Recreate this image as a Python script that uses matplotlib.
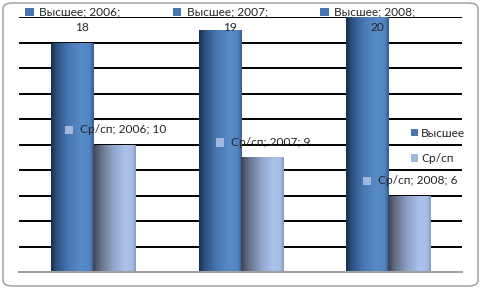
import numpy as np
import matplotlib
matplotlib.use("Agg")
import matplotlib.pyplot as plt
from matplotlib.colors import LinearSegmentedColormap
from matplotlib.patches import FancyBboxPatch, Rectangle, Patch
from matplotlib.offsetbox import AnnotationBbox, HPacker, VPacker, TextArea, DrawingArea
import matplotlib.transforms as mtransforms

years = ["2006", "2007", "2008"]
vysshee = [18, 19, 20]
srsp = [10, 9, 6]
series_names = ["Высшее", "Ср/сп"]

plt.rcParams['font.family'] = ['Lato', 'DejaVu Sans']
FS = 8.6
TXT = '#262626'
DARK_KEY = '#4a76b0'
LIGHT_KEY = '#a3b6dc'

fig = plt.figure(figsize=(4.81, 2.89), dpi=100)
fig.patch.set_facecolor('white')
frame = FancyBboxPatch((3/481, 3/289), 475/481, 283/289,
                       boxstyle="round,pad=0,rounding_size=0.02",
                       transform=fig.transFigure, facecolor='none',
                       edgecolor='#9a9a9a', linewidth=1.0, zorder=0)
fig.patches.append(frame)

ax = fig.add_axes([19/481, 1-272/289, 443/481, 255/289])
ax.set_facecolor('none')
x = np.arange(len(years))
w = 0.285
ax.set_xlim(-0.502, 2.501)
ax.set_ylim(0, 20)
ax.set_yticks(np.arange(0, 21, 2))
ax.yaxis.grid(True, color='black', linewidth=1.4, zorder=0)
ax.set_axisbelow(True)
ax.tick_params(left=False, bottom=False, labelleft=False, labelbottom=False)
for s in ['left', 'right', 'top']:
    ax.spines[s].set_visible(False)
ax.spines['bottom'].set_color('#a0a0a0')
ax.spines['bottom'].set_linewidth(1.5)

cm_dark = LinearSegmentedColormap.from_list('d', [
    (0.0, '#172c4a'), (0.12, '#2c4e7c'), (0.4, '#4677b2'),
    (0.72, '#588cc9'), (0.9, '#5286c2'), (1.0, '#375c90')])
cm_light = LinearSegmentedColormap.from_list('l', [
    (0.0, '#3b4353'), (0.18, '#666f89'), (0.48, '#92a5cb'),
    (0.75, '#abc3ec'), (0.92, '#a5bbe3'), (1.0, '#8598bc')])

grad = np.linspace(0, 1, 256).reshape(1, -1)

def shade(bars, cmap):
    for b in bars:
        x0, y0 = b.get_x(), b.get_y()
        bw, bh = b.get_width(), b.get_height()
        b.set_facecolor('none')
        b.set_edgecolor('none')
        im = ax.imshow(grad, cmap=cmap, aspect='auto',
                       extent=(x0, x0 + bw, y0, y0 + bh), zorder=2,
                       interpolation='bilinear')
        im.set_clip_path(b)

b1 = ax.bar(x - w/2, vysshee, w, zorder=2)
b2 = ax.bar(x + w/2, srsp, w, zorder=2)
shade(b1, cm_dark)
shade(b2, cm_light)
ax.set_xlim(-0.502, 2.501)
ax.set_ylim(0, 20)

def keybox(color):
    da = DrawingArea(6, 6, 0, 0)
    da.add_artist(Rectangle((0, 0), 6, 6, facecolor=color, edgecolor='none'))
    return da

def spacer():
    return DrawingArea(10, 6, 0, 0)

tprops = dict(fontsize=FS, color=TXT)

# Высшее labels (kept inside plot area at top)
blend = mtransforms.blended_transform_factory(ax.transData, ax.transAxes)
for xi, yr, v in zip(x, years, vysshee):
    row = HPacker(children=[keybox(DARK_KEY),
                            TextArea(f"{series_names[0]}; {yr};", textprops=tprops),
                            spacer()], align='center', pad=0, sep=4)
    box = VPacker(children=[row, TextArea(str(v), textprops=tprops)],
                  align='center', pad=0, sep=3)
    ab = AnnotationBbox(box, (xi - w/2, 1.0), xycoords=blend,
                        xybox=(7.5, -2.0), boxcoords='offset points',
                        frameon=False, box_alignment=(0.5, 0.5), zorder=5,
                        annotation_clip=False)
    ax.add_artist(ab)

for xi, yr, v in zip(x, years, srsp):
    row = HPacker(children=[keybox(LIGHT_KEY),
                            TextArea(f"{series_names[1]}; {yr}; {v}", textprops=tprops),
                            spacer()], align='center', pad=0, sep=5)
    ab = AnnotationBbox(row, (xi + w/2, v), xycoords='data',
                        xybox=(8.5, 10.5), boxcoords='offset points',
                        frameon=False, box_alignment=(0.5, 0.5), zorder=5)
    ax.add_artist(ab)

handles = [Patch(facecolor=DARK_KEY, edgecolor='none'),
           Patch(facecolor=LIGHT_KEY, edgecolor='none')]
leg = ax.legend(handles, series_names, loc='center left',
                bbox_to_anchor=((411-19)/443, (272-146)/255), frameon=False,
                fontsize=FS, handlelength=0.55, handleheight=0.55,
                handletextpad=0.3, labelspacing=1.2, borderpad=0,
                borderaxespad=0, labelcolor=TXT)
leg.set_zorder(6)

fig.savefig('out.png', dpi=100, facecolor='white')
